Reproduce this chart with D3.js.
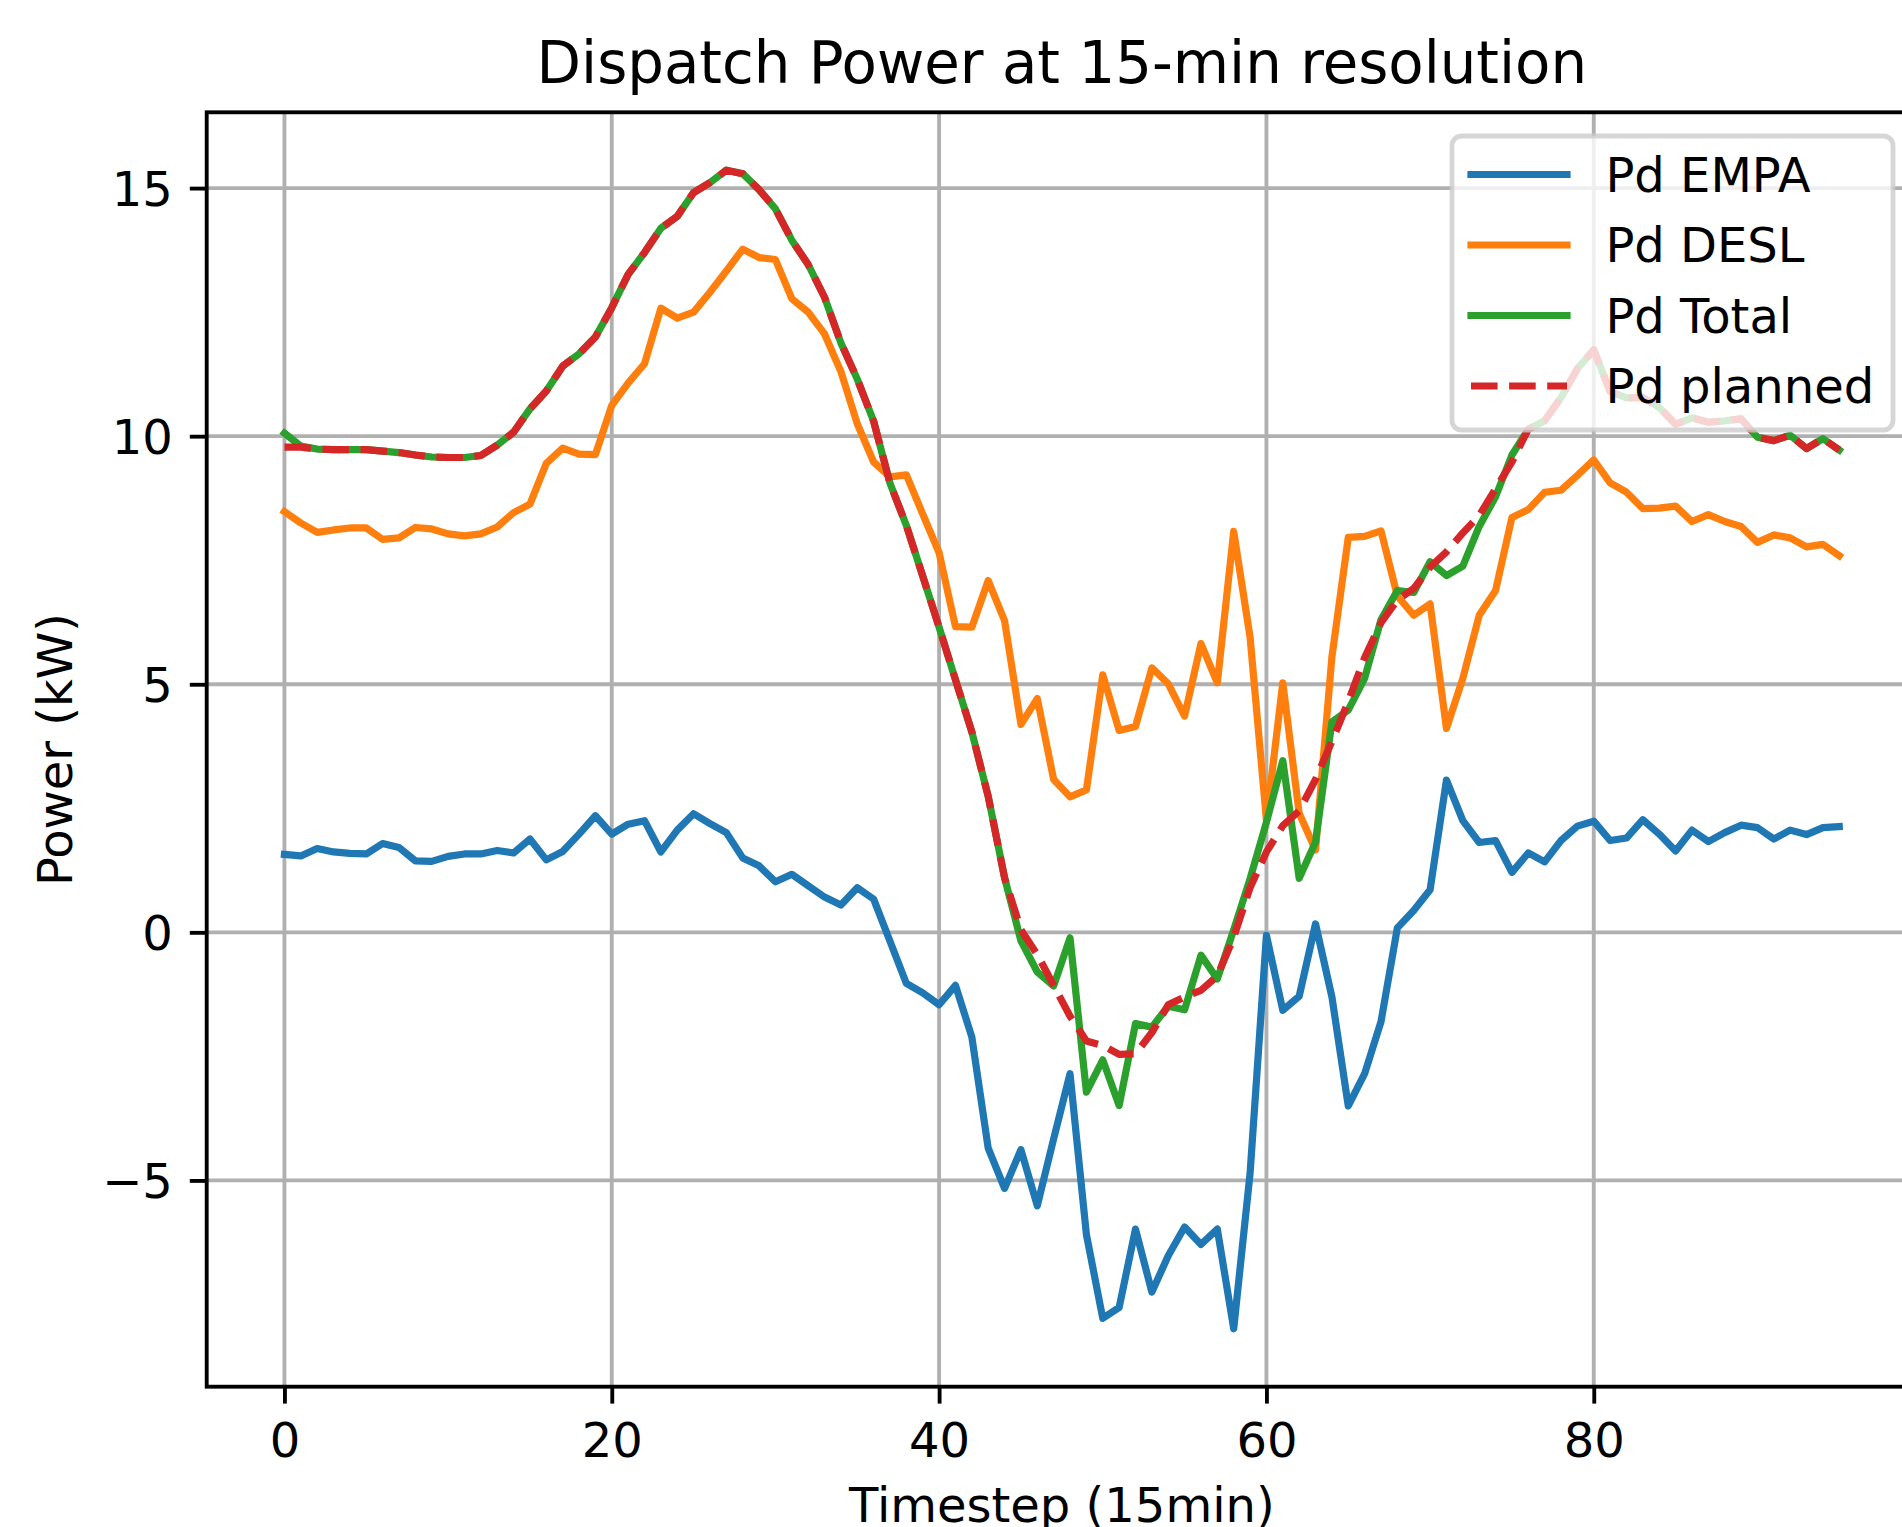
<!DOCTYPE html>
<html>
<head>
<meta charset="utf-8">
<script src="https://cdn.jsdelivr.net/npm/d3@7/dist/d3.min.js"></script>
<style>
    body { margin: 0; background: #ffffff; }
    text { font-family: "DejaVu Sans", sans-serif; fill: #000; }
</style>
</head>
<body>
<div id="chart"></div>
<script>
// Values, one per 15-min timestep (0..95)
const pdEmpa = [
    1.57, 1.54, 1.69, 1.62, 1.59, 1.58, 1.79, 1.71, 1.44, 1.43,
    1.53, 1.58, 1.58, 1.65, 1.60, 1.88, 1.46, 1.63, 1.98, 2.35,
    1.98, 2.18, 2.25, 1.62, 2.06, 2.39, 2.19, 2.01, 1.50, 1.34,
    1.02, 1.17, 0.94, 0.71, 0.55, 0.90, 0.67, -0.18, -1.03, -1.22,
    -1.46, -1.07, -2.11, -4.35, -5.16, -4.38, -5.51, -4.16, -2.85, -6.09,
    -7.78, -7.56, -5.98, -7.25, -6.52, -5.94, -6.29, -5.98, -7.99, -4.86,
    -0.06, -1.57, -1.29, 0.17, -1.30, -3.50, -2.85, -1.80, 0.09, 0.44,
    0.86, 3.07, 2.25, 1.81, 1.85, 1.21, 1.60, 1.42, 1.85, 2.14,
    2.24, 1.85, 1.90, 2.27, 1.98, 1.64, 2.06, 1.83, 2.01, 2.16,
    2.11, 1.88, 2.06, 1.97, 2.11, 2.13
];

const pdDesl = [
    8.48, 8.25, 8.06, 8.11, 8.15, 8.15, 7.92, 7.95, 8.16, 8.13,
    8.03, 7.99, 8.03, 8.17, 8.46, 8.63, 9.45, 9.76, 9.64, 9.63,
    10.62, 11.07, 11.46, 12.58, 12.38, 12.50, 12.90, 13.33, 13.77, 13.60,
    13.56, 12.77, 12.50, 12.06, 11.30, 10.25, 9.48, 9.18, 9.22, 8.43,
    7.65, 6.16, 6.15, 7.09, 6.28, 4.19, 4.71, 3.08, 2.73, 2.87,
    5.19, 4.07, 4.15, 5.33, 5.01, 4.36, 5.82, 5.03, 8.08, 5.95,
    2.26, 5.03, 2.40, 1.66, 5.55, 7.96, 7.98, 8.09, 6.78, 6.39,
    6.62, 4.11, 5.12, 6.39, 6.89, 8.36, 8.52, 8.87, 8.91, 9.21,
    9.52, 9.06, 8.87, 8.54, 8.55, 8.59, 8.28, 8.42, 8.28, 8.18,
    7.86, 8.01, 7.95, 7.77, 7.82, 7.59
];

const pdTotal = [
    10.06, 9.80, 9.74, 9.73, 9.73, 9.73, 9.70, 9.67, 9.62, 9.58,
    9.57, 9.57, 9.61, 9.82, 10.08, 10.55, 10.91, 11.41, 11.66, 12.00,
    12.59, 13.26, 13.70, 14.19, 14.43, 14.91, 15.11, 15.36, 15.29, 14.97,
    14.58, 13.95, 13.46, 12.80, 11.88, 11.15, 10.30, 9.05, 8.20, 7.18,
    6.15, 5.09, 4.04, 2.74, 1.10, -0.17, -0.80, -1.08, -0.11, -3.22,
    -2.57, -3.49, -1.84, -1.91, -1.49, -1.56, -0.46, -0.94, 0.05, 1.08,
    2.22, 3.46, 1.09, 1.82, 4.24, 4.48, 5.12, 6.30, 6.89, 6.85,
    7.47, 7.19, 7.38, 8.18, 8.78, 9.62, 10.14, 10.31, 10.78, 11.36,
    11.74, 10.90, 10.77, 10.78, 10.58, 10.24, 10.37, 10.28, 10.31, 10.35,
    9.98, 9.91, 10.02, 9.75, 9.95, 9.72
];

const pdPlanned = [
    9.78, 9.78, 9.74, 9.73, 9.73, 9.73, 9.70, 9.67, 9.62, 9.58,
    9.57, 9.57, 9.61, 9.82, 10.08, 10.55, 10.91, 11.41, 11.66, 12.00,
    12.59, 13.26, 13.70, 14.19, 14.43, 14.91, 15.11, 15.36, 15.29, 14.97,
    14.58, 13.95, 13.46, 12.80, 11.88, 11.15, 10.30, 9.05, 8.20, 7.18,
    6.15, 5.09, 4.04, 2.74, 1.10, 0.05, -0.45, -1.07, -1.69, -2.19,
    -2.28, -2.46, -2.45, -2.02, -1.46, -1.30, -1.17, -0.88, -0.10, 0.90,
    1.62, 2.15, 2.45, 3.08, 3.85, 4.65, 5.54, 6.24, 6.70, 6.93,
    7.36, 7.67, 8.05, 8.40, 8.94, 9.48, 10.14, 10.31, 10.78, 11.36,
    11.74, 10.90, 10.77, 10.78, 10.58, 10.24, 10.37, 10.28, 10.31, 10.35,
    9.98, 9.91, 10.02, 9.75, 9.95, 9.72
];

const seriesNames = ["Pd EMPA", "Pd DESL", "Pd Total", "Pd planned"];
const seriesColors = ["#1f77b4", "#ff7f0e", "#2ca02c", "#d62728"];

const xTicks = [0, 20, 40, 60, 80];
const yTicks = [-5, 0, 5, 10, 15];
const yTickLabels = ["\u22125", "0", "5", "10", "15"];

// Layout (pixels)
let width = 1902, height = 1527;
let axLeft = 206.7, axTop = 112.3, axWidth = 1710.3, axHeight = 1274.4;
let lineWidth = 7.2, gridWidth = 3.86, fontSize = 48;

let svg = d3.select("#chart").append("svg")
    .attr("width", width)
    .attr("height", height)
    .style("display", "block");

// matplotlib-like 5% margins around the data
let n = pdEmpa.length;
let allValues = pdEmpa.concat(pdDesl, pdTotal, pdPlanned);
let yMin = d3.min(allValues), yMax = d3.max(allValues);
let yPad = (yMax - yMin) * 0.05;
let xPad = (n - 1) * 0.05;

let xScale = d3.scaleLinear().domain([-xPad, n - 1 + xPad]).range([axLeft, axLeft + axWidth]);
let yScale = d3.scaleLinear().domain([yMin - yPad, yMax + yPad]).range([axTop + axHeight, axTop]);

// Grid
let grid = svg.append("g").attr("class", "grid");
grid.selectAll("line.gx").data(xTicks).enter().append("line")
    .attr("x1", d => xScale(d)).attr("x2", d => xScale(d))
    .attr("y1", axTop).attr("y2", axTop + axHeight)
    .attr("stroke", "#b0b0b0").attr("stroke-width", gridWidth);
grid.selectAll("line.gy").data(yTicks).enter().append("line")
    .attr("x1", axLeft).attr("x2", axLeft + axWidth)
    .attr("y1", d => yScale(d)).attr("y2", d => yScale(d))
    .attr("stroke", "#b0b0b0").attr("stroke-width", gridWidth);

// Lines
let clip = svg.append("clipPath").attr("id", "axclip").append("rect")
    .attr("x", axLeft).attr("y", axTop).attr("width", axWidth).attr("height", axHeight);

let line = d3.line()
    .x((d, i) => xScale(i))
    .y(d => yScale(d));

let seriesData = [pdEmpa, pdDesl, pdTotal, pdPlanned];
seriesData.forEach(function(values, k) {
    let path = svg.append("path")
        .datum(values)
        .attr("d", line)
        .attr("fill", "none")
        .attr("clip-path", "url(#axclip)")
        .attr("stroke", seriesColors[k])
        .attr("stroke-width", lineWidth)
        .attr("stroke-linejoin", "round");
    if (k === 3) {
        path.attr("stroke-dasharray", "26.6,11.5").attr("stroke-linecap", "butt");
    } else {
        path.attr("stroke-linecap", "square");
    }
});

// Axes
let xAxis = svg.append("g")
    .attr("transform", "translate(0," + (axTop + axHeight) + ")")
    .call(d3.axisBottom(xScale).tickValues(xTicks).tickSize(16.9).tickSizeOuter(0).tickPadding(19));
let yAxis = svg.append("g")
    .attr("transform", "translate(" + axLeft + ",0)")
    .call(d3.axisLeft(yScale).tickValues(yTicks).tickSize(16.9).tickSizeOuter(0).tickPadding(16.9)
        .tickFormat((d, i) => yTickLabels[i]));

[xAxis, yAxis].forEach(function(ax) {
    ax.select(".domain").remove();
    ax.selectAll(".tick line").attr("stroke", "#000").attr("stroke-width", gridWidth);
    ax.selectAll(".tick text")
        .attr("fill", "#000")
        .style("font-family", "DejaVu Sans")
        .style("font-size", fontSize + "px");
});
yAxis.selectAll(".tick text").attr("dy", "0.36em");

// Spines
svg.append("rect")
    .attr("x", axLeft).attr("y", axTop)
    .attr("width", axWidth).attr("height", axHeight)
    .attr("fill", "none").attr("stroke", "#000").attr("stroke-width", gridWidth);

// Title and axis labels
svg.append("text")
    .attr("x", axLeft + axWidth / 2).attr("y", 83)
    .attr("text-anchor", "middle")
    .style("font-size", "57.8px")
    .text("Dispatch Power at 15-min resolution");

svg.append("text")
    .attr("x", axLeft + axWidth / 2).attr("y", 1522)
    .attr("text-anchor", "middle")
    .style("font-size", fontSize + "px")
    .text("Timestep (15min)");

svg.append("text")
    .attr("transform", "translate(72," + (axTop + axHeight / 2) + ") rotate(-90)")
    .attr("text-anchor", "middle")
    .style("font-size", fontSize + "px")
    .text("Power (kW)");

// Legend (upper right)
let legendX = 1452, legendY = 136, legendW = 441, legendH = 294;
let legend = svg.append("g").attr("class", "legend");
legend.append("rect")
    .attr("x", legendX).attr("y", legendY)
    .attr("width", legendW).attr("height", legendH)
    .attr("rx", 9.6).attr("ry", 9.6)
    .attr("fill", "rgba(255,255,255,0.8)")
    .attr("stroke", "rgba(204,204,204,0.8)")
    .attr("stroke-width", 4.8);

seriesNames.forEach(function(name, k) {
    let rowY = legendY + 38.5 + k * 70.5;
    let handle = legend.append("line")
        .attr("x1", legendX + 19).attr("x2", legendX + 115)
        .attr("y1", rowY).attr("y2", rowY)
        .attr("stroke", seriesColors[k])
        .attr("stroke-width", lineWidth);
    if (k === 3) {
        handle.attr("stroke-dasharray", "26.6,11.5").attr("stroke-linecap", "butt");
    } else {
        handle.attr("stroke-linecap", "square");
    }
    legend.append("text")
        .attr("x", legendX + 153.4).attr("y", rowY)
        .attr("dy", "0.36em")
        .style("font-size", fontSize + "px")
        .text(name);
});
</script>
</body>
</html>
